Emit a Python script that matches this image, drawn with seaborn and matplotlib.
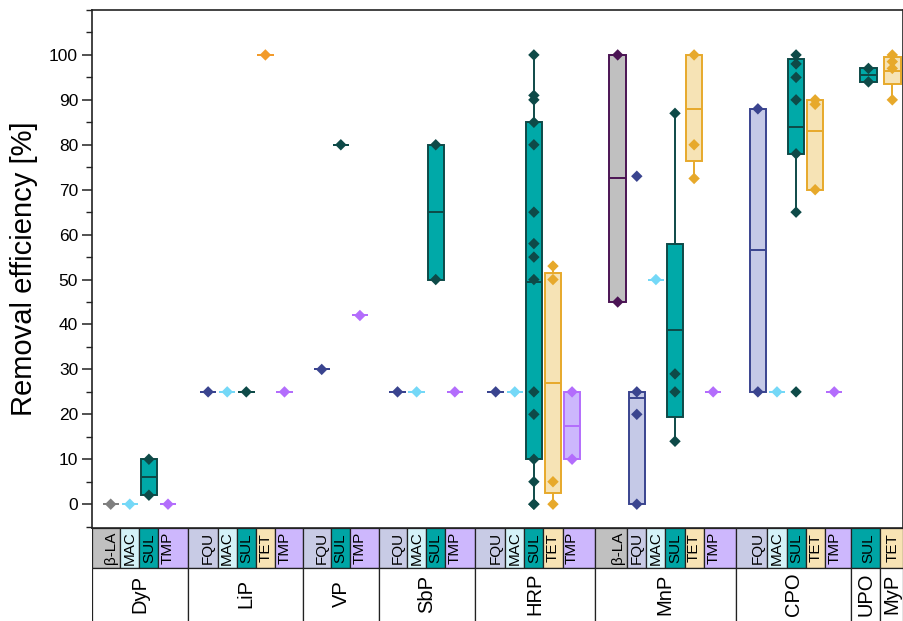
import numpy as np
import pandas as pd
import seaborn as sns
import matplotlib.pyplot as plt
from matplotlib.ticker import MultipleLocator

# ---------------------------------------------------------------- data
groups = ["DyP", "LiP", "VP", "SbP", "HRP", "MnP", "CPO", "UPO", "MyP"]
substrates = [
    ["β-LA", "MAC", "SUL", "TMP"],
    ["FQU", "MAC", "SUL", "TET", "TMP"],
    ["FQU", "SUL", "TMP"],
    ["FQU", "MAC", "SUL", "TMP"],
    ["FQU", "MAC", "SUL", "TET", "TMP"],
    ["β-LA", "FQU", "MAC", "SUL", "TET", "TMP"],
    ["FQU", "MAC", "SUL", "TET", "TMP"],
    ["SUL"],
    ["TET"],
]

# single reported removal efficiencies [%]
points = [
    [[0], [0], [2, 10], [0]],
    [[25], [25], [25], [100], [25]],
    [[30], [80], [42]],
    [[25], [25], [50, 80], [25]],
    [[25], [25], [0, 0, 5, 10, 20, 25, 50, 55, 58, 65, 80, 85, 90, 91, 100],
     [0, 5, 50, 53], [10, 25]],
    [[45, 100], [0, 20, 25, 73], [50], [14, 25, 29, 87], [72.5, 80, 100], [25]],
    [[25, 88], [25], [25, 65, 78, 90, 95, 98, 100], [70, 89, 90], [25]],
    [[94, 97]],
    [[90, 97, 98.5, 100]],
]

# box: whisker low, Q1, centre line, Q3, whisker high
# (None -> single value, drawn as a flat box)
box_stats = [
    [None, None, (2, 2, 6, 10, 10), None],
    [None, None, None, None, None],
    [None, None, None],
    [None, None, (50, 50, 65, 80, 80), None],
    [None, None, (0, 10, 49.5, 85, 100), (0, 2.5, 27, 51.5, 53), (10, 10, 17.5, 25, 25)],
    [(45, 45, 72.5, 100, 100), (0, 0, 23.7, 25, 25), None,
     (14, 19.5, 38.7, 58, 87), (72.5, 76.3, 88, 100, 100), None],
    [(25, 25, 56.5, 88, 88), None, (65, 78, 84, 99, 100), (70, 70, 83, 90, 90), None],
    [(94, 94, 95.5, 97, 97)],
    [(90, 93.5, 96.5, 99.5, 100)],
]

# ---------------------------------------------------------------- style
fill = {"β-LA": "#c0c0c0", "FQU": "#c5c9e7", "MAC": "#d5f3fa", "SUL": "#00a9a8",
        "TET": "#f6e3b5", "TMP": "#ccb7fd", "β-LA*": "#c0c0c0", "TET*": "#f6e3b5"}
edge = {"β-LA": "#4b1454", "FQU": "#3a448f", "MAC": "#74d8f7", "SUL": "#0e4a48",
        "TET": "#e7a92b", "TMP": "#b36dfc", "β-LA*": "#7f7f7f", "TET*": "#f29b2b"}
cell = {"β-LA": "#c0c0c0", "FQU": "#c8cbe5", "MAC": "#d4f2f8", "SUL": "#00a5a5",
        "TET": "#f8e3b4", "TMP": "#cdb7fd"}
variant = {("DyP", "β-LA"): "β-LA*", ("LiP", "TET"): "TET*"}
group_gap = [2.1, 1.95, 1.97, 2.14, 2.39, 2.34, 1.79, 1.25]

sns.set_style("ticks")
plt.rcParams["font.family"] = ["Liberation Sans", "DejaVu Sans"]
plt.rcParams["text.color"] = "black"
plt.rcParams["axes.labelcolor"] = "black"
plt.rcParams["ytick.labelcolor"] = "black"

# ---------------------------------------------------------------- layout of x
pos, types, gidx = [], [], []
x = 0.0
for gi, subs in enumerate(substrates):
    if gi:
        x += group_gap[gi - 1] - 1
    for s in subs:
        pos.append(x)
        types.append(s)
        gidx.append(gi)
        x += 1

box_rows, pt_rows = [], []
k = 0
for gi, g in enumerate(groups):
    for si, s in enumerate(substrates[gi]):
        key = variant.get((g, s), s)
        vals = points[gi][si]
        st = box_stats[gi][si] or (vals[0],) * 5
        for v in st:
            box_rows.append((pos[k], v, key))
        for v in vals:
            pt_rows.append((pos[k], v, key))
        k += 1
box_df = pd.DataFrame(box_rows, columns=["pos", "val", "key"])
pt_df = pd.DataFrame(pt_rows, columns=["pos", "val", "key"])
key_order = list(dict.fromkeys(box_df["key"]))

W, H = 904, 621
fig = plt.figure(figsize=(W / 100, H / 100), dpi=100)
ax = fig.add_axes([92 / W, (H - 528) / H, 811 / W, 518 / H])

sns.boxplot(data=box_df, x="pos", y="val", hue="key", hue_order=key_order,
            palette=fill, saturation=1, native_scale=True, dodge=False,
            whis=(0, 100), showfliers=False, showcaps=False, width=0.86,
            linewidth=1.4, legend=False, ax=ax)
for key, cont in zip(key_order, ax.containers):
    for b in cont.boxes:
        b.set_edgecolor(edge[key])
    for ln in list(cont.medians) + list(cont.whiskers):
        ln.set_color(edge[key])

sns.scatterplot(data=pt_df, x="pos", y="val", hue="key", palette=edge,
                marker="D", s=34, linewidth=0, legend=False, ax=ax, zorder=5)

xmin, xmax = -0.98, pos[-1] + 0.56
ax.set_xlim(xmin, xmax)
ax.set_ylim(-5.3, 110)
ax.set_xticks([])
ax.set_xlabel("")
ax.yaxis.set_major_locator(MultipleLocator(10))
ax.yaxis.set_minor_locator(MultipleLocator(5))
ax.set_yticks(np.arange(0, 101, 10))
ax.tick_params(axis="y", which="major", direction="out", length=7, width=1.1,
               labelsize=12.5, pad=3, color="#222222", labelcolor="black")
ax.tick_params(axis="y", which="minor", direction="out", length=4, width=1.0,
               color="#222222")
ax.set_ylabel("Removal efficiency [%]", fontsize=21, labelpad=8, color="black")
for sp in ax.spines.values():
    sp.set_linewidth(1.2)
    sp.set_color("#222222")

# ---------------------------------------------------------------- table below
tab = fig.add_axes([92 / W, 0, 811 / W, 93 / H])
tab.set_xlim(xmin, xmax)
tab.set_ylim(0, 93)
tab.axis("off")

bounds = [xmin] + [(a + b) / 2 for a, b in zip(pos[:-1], pos[1:])] + [xmax]
tab.bar(bounds[:-1], 40, width=np.diff(bounds), bottom=53, align="edge",
        color=[cell[t] for t in types], edgecolor="#222222", linewidth=0.9)
for xp, t in zip(pos, types):
    tab.text(xp, 73, t, rotation=90, ha="center", va="center", fontsize=11)

g_left, g_right = [], []
for gi in range(len(groups)):
    idx = [i for i, g in enumerate(gidx) if g == gi]
    g_left.append(bounds[idx[0]])
    g_right.append(bounds[idx[-1] + 1])
tab.bar(g_left, 73, width=np.subtract(g_right, g_left), bottom=-20, align="edge",
        color="white", edgecolor="#222222", linewidth=0.9)
for gl, gr, g in zip(g_left, g_right, groups):
    tab.text((gl + gr) / 2, 27, g, rotation=90, ha="center", va="center", fontsize=14.5)

fig.savefig("out.png", dpi=100)
